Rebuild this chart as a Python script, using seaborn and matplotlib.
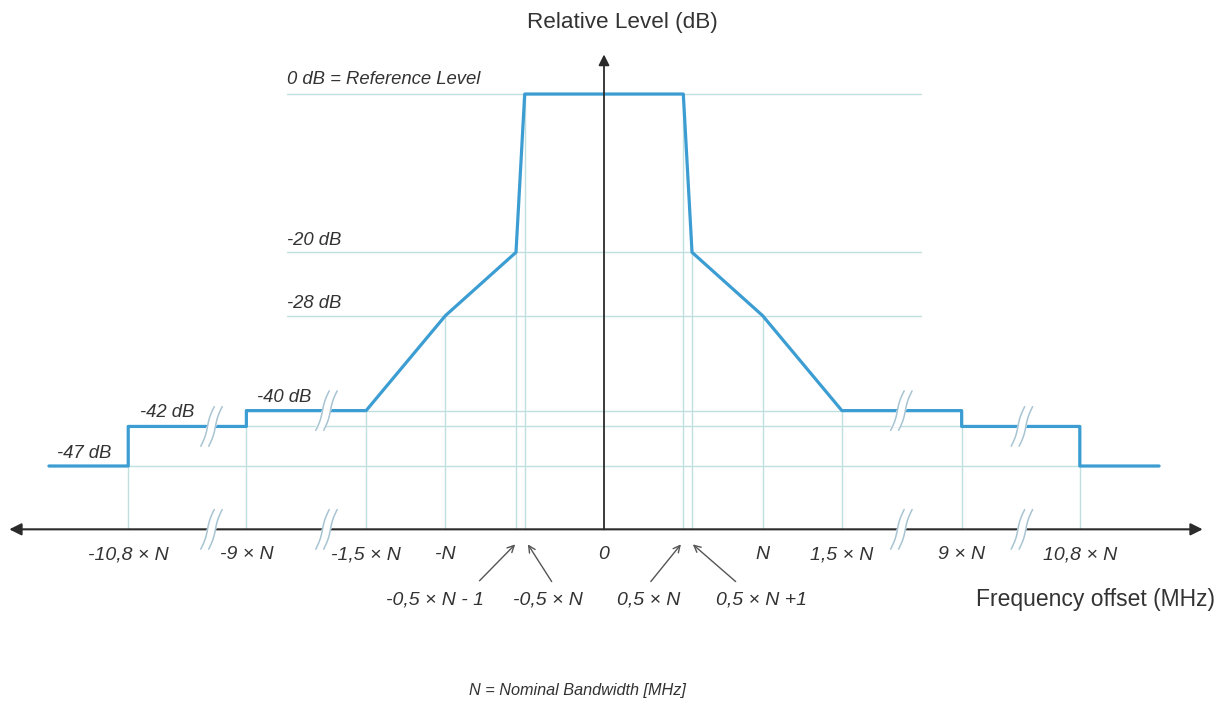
import numpy as np
import pandas as pd
import matplotlib
matplotlib.use("Agg")
import matplotlib.pyplot as plt
import seaborn as sns

# schematic frequency positions (broken axis, 1 unit ~ 0.5 x N) and mask levels in dB
mask_x = [-7.0, -6.0, -6.0, -4.51, -4.51, -3.0, -2.0, -1.11, -1.0,
          1.0, 1.11, 2.0, 3.0, 4.51, 4.51, 6.0, 6.0, 7.0]
mask_db = [-47, -47, -42, -42, -40, -40, -28, -20, 0,
           0, -20, -28, -40, -40, -42, -42, -47, -47]

# labelled frequency points
tick_pos = [-6.0, -4.51, -3.0, -2.0, 0.0, 2.0, 3.0, 4.51, 6.0]
tick_labels = ["-10,8 \u00d7 N", "-9 \u00d7 N", "-1,5 \u00d7 N", "-N", "0",
               "N", "1,5 \u00d7 N", "9 \u00d7 N", "10,8 \u00d7 N"]
inner_pos = [-1.11, -1.0, 1.0, 1.11]
inner_labels = ["-0,5 \u00d7 N - 1", "-0,5 \u00d7 N", "0,5 \u00d7 N", "0,5 \u00d7 N +1"]

# vertical guide lines: position and the level they start from
guide_x = [-6.0, -4.51, -3.0, -2.0, -1.11, -1.0, 1.0, 1.11, 2.0, 3.0, 4.51, 6.0]
guide_top = [-42, -40, -40, -28, -20, 0, 0, -20, -28, -40, -40, -42]

# horizontal guide lines: level and half-width
level_db = [0, -20, -28, -40, -42, -47]
level_half = [4.0, 4.0, 4.0, 4.51, 4.51, 6.0]
level_labels = ["0 dB = Reference Level", "-20 dB", "-28 dB", "-40 dB", "-42 dB", "-47 dB"]

break_x = [-4.95, -3.5, 3.75, 5.27]
break_db = [-42, -40, -40, -42]

AXIS_DB = -55

sns.set_style("white")
plt.rcParams["font.family"] = ["Liberation Sans", "DejaVu Sans"]

fig = plt.figure(figsize=(12.23, 7.04), dpi=100)
ax = fig.add_axes([0, 0, 1, 1])
ax.set_xlim(-7.617, 7.806)
ax.set_ylim(-77.07, 11.88)
ax.axis("off")

grid_c = "#bfe0df"
mask_c = "#3c9dd3"
axis_c = "#2b2b2b"
txt_c = "#333333"

for y, h in zip(level_db, level_half):
    ax.plot([-h, h], [y, y], color=grid_c, lw=1.0, zorder=1)
for x, t in zip(guide_x, guide_top):
    ax.plot([x, x], [t, AXIS_DB], color=grid_c, lw=1.0, zorder=1)

df = pd.DataFrame({"x": mask_x, "db": mask_db})
sns.lineplot(data=df, x="x", y="db", sort=False, estimator=None,
             color=mask_c, lw=2.3, ax=ax, zorder=3)

# axes with arrows
ax.annotate("", xy=(-7.5, AXIS_DB), xytext=(7.55, AXIS_DB),
            arrowprops=dict(arrowstyle="<|-|>", color=axis_c, lw=1.5,
                            mutation_scale=18, shrinkA=0, shrinkB=0), zorder=2)
ax.annotate("", xy=(0, 5.0), xytext=(0, AXIS_DB),
            arrowprops=dict(arrowstyle="-|>", color=axis_c, lw=1.3,
                            mutation_scale=16, shrinkA=0, shrinkB=0), zorder=4)

# break marks
for bx, by in zip(break_x + break_x, break_db + [AXIS_DB] * 4):
    t = np.linspace(-1, 1, 20)
    ax.fill([bx - 0.13, bx - 0.03, bx + 0.13, bx + 0.03],
            [by - 2.0, by - 2.0, by + 2.0, by + 2.0], color="white", zorder=5)
    for off in (-0.05, 0.05):
        xs = bx + off + 0.085 * t - 0.012 * np.sin(np.pi * t)
        ys = by + 2.5 * t
        ax.plot(xs, ys, color="#a8c4d2", lw=1.1, zorder=6)

# labels
tick_kw = dict(fontsize=14, style="italic", color=txt_c, ha="center", va="center")
for p, lab in zip(tick_pos, tick_labels):
    ax.text(p, -58.2, lab, **tick_kw)

lab_x = [-2.13, -0.71, 0.56, 1.98]
arrow_from = [(-1.57, -61.5), (-0.66, -61.6), (0.59, -61.6), (1.66, -61.6)]
arrow_to = [(-1.12, -56.9), (-0.96, -56.9), (0.97, -56.9), (1.12, -56.9)]
for lx, lab, a, b in zip(lab_x, inner_labels, arrow_from, arrow_to):
    ax.text(lx, -63.9, lab, **tick_kw)
    ax.annotate("", xy=b, xytext=a,
                arrowprops=dict(arrowstyle="->", color="#555555", lw=1.0,
                                mutation_scale=12, shrinkA=0, shrinkB=0))

lvl_pos = [(-4.0, 1.8), (-4.0, -18.5), (-4.0, -26.5), (-4.37, -38.4), (-5.85, -40.3), (-6.9, -45.4)]
for (lx, ly), lab in zip(lvl_pos, level_labels):
    ax.text(lx, ly, lab, fontsize=13.3, style="italic", color=txt_c,
            ha="left", va="center")

ax.text(0.23, 9.0, "Relative Level (dB)", fontsize=16.2, color=txt_c,
        ha="center", va="center")
ax.text(7.7, -63.9, "Frequency offset (MHz)", fontsize=16.5, color=txt_c,
        ha="right", va="center")
ax.text(-0.34, -75.4, "N = Nominal Bandwidth [MHz]", fontsize=11.7,
        style="italic", color=txt_c, ha="center", va="center")

fig.savefig("out.png", dpi=100)
